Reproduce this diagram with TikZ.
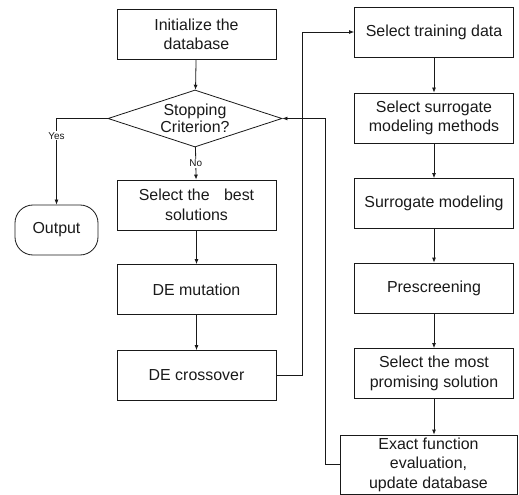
\documentclass[tikz,border=0pt]{standalone}
\usepackage{fontspec}
\setmainfont{Liberation Sans}
\usetikzlibrary{shapes.geometric,arrows.meta}

\tikzset{
	caixa/.style={draw, rectangle, minimum width=159bp, minimum height=50bp, inner sep=1bp, align=center, font=\fontsize{16}{19.5}\selectfont},
	decisao/.style={draw, diamond, aspect=3.1, inner sep=0bp, minimum width=174bp, minimum height=57bp, align=center, font=\fontsize{16}{17}\selectfont},
	saida/.style={draw, rectangle, rounded corners=18bp, minimum width=83bp, minimum height=50bp, font=\fontsize{16}{19.5}\selectfont},
	seta/.style={-{Latex[length=5bp,width=4bp]}},
	rotulo/.style={fill=white, inner sep=1bp, font=\fontsize{10}{12}\selectfont}
}

\begin{document}
\begin{tikzpicture}[x=1bp, y=-1bp, line width=0.8bp, color=black!90]
				
				\useasboundingbox (0,0) rectangle (519,495);
				
				% coluna da esquerda
				\node[caixa] (init) at (196.5,34.5) {Initialize the\\database};
				\node[decisao] (stop) at (195,118.5) {Stopping\\Criterion?};
				\node[caixa] (best) at (196.5,205) {Select the\hspace{0.9em}best\\solutions};
				\node[caixa] (mut) at (196.5,289.5) {DE mutation};
				\node[caixa] (cross) at (196.5,375.5) {DE crossover};
				\node[saida] (out) at (56.5,230) {Output};
				
				% coluna da direita
				\node[caixa] (train) at (434,32) {Select training data};
				\node[caixa] (surrm) at (434,118) {Select surrogate\\modeling methods};
				\node[caixa] (surr) at (434,203.5) {Surrogate modeling};
				\node[caixa] (presc) at (434,288) {Prescreening};
				\node[caixa] (prom) at (434,373.5) {Select the most\\promising solution};
				\node[caixa, minimum width=177bp, minimum height=59bp, inner sep=0bp] (exact) at (428.5,464.5) {Exact function\\evaluation,\\update database};
				
				% setas
				\draw[seta] (init) -- (stop);
				\draw[seta] (stop) -- node[rotulo] {No} (best);
				\draw[seta] (stop.west) -| node[rotulo, pos=0.6] {Yes} (out);
				\draw[seta] (best) -- (mut);
				\draw[seta] (mut) -- (cross);
				\draw[seta] (cross.east) -- ++(26,0) |- (train.west);
				
				\draw[seta] (train) -- (surrm);
				\draw[seta] (surrm) -- (surr);
				\draw[seta] (surr) -- (presc);
				\draw[seta] (presc) -- (prom);
				\draw[seta] (prom) -- (prom |- exact.north);
				\draw[seta] (exact.west) -- ++(-14,0) |- (stop.east);
				
\end{tikzpicture}
\end{document}
